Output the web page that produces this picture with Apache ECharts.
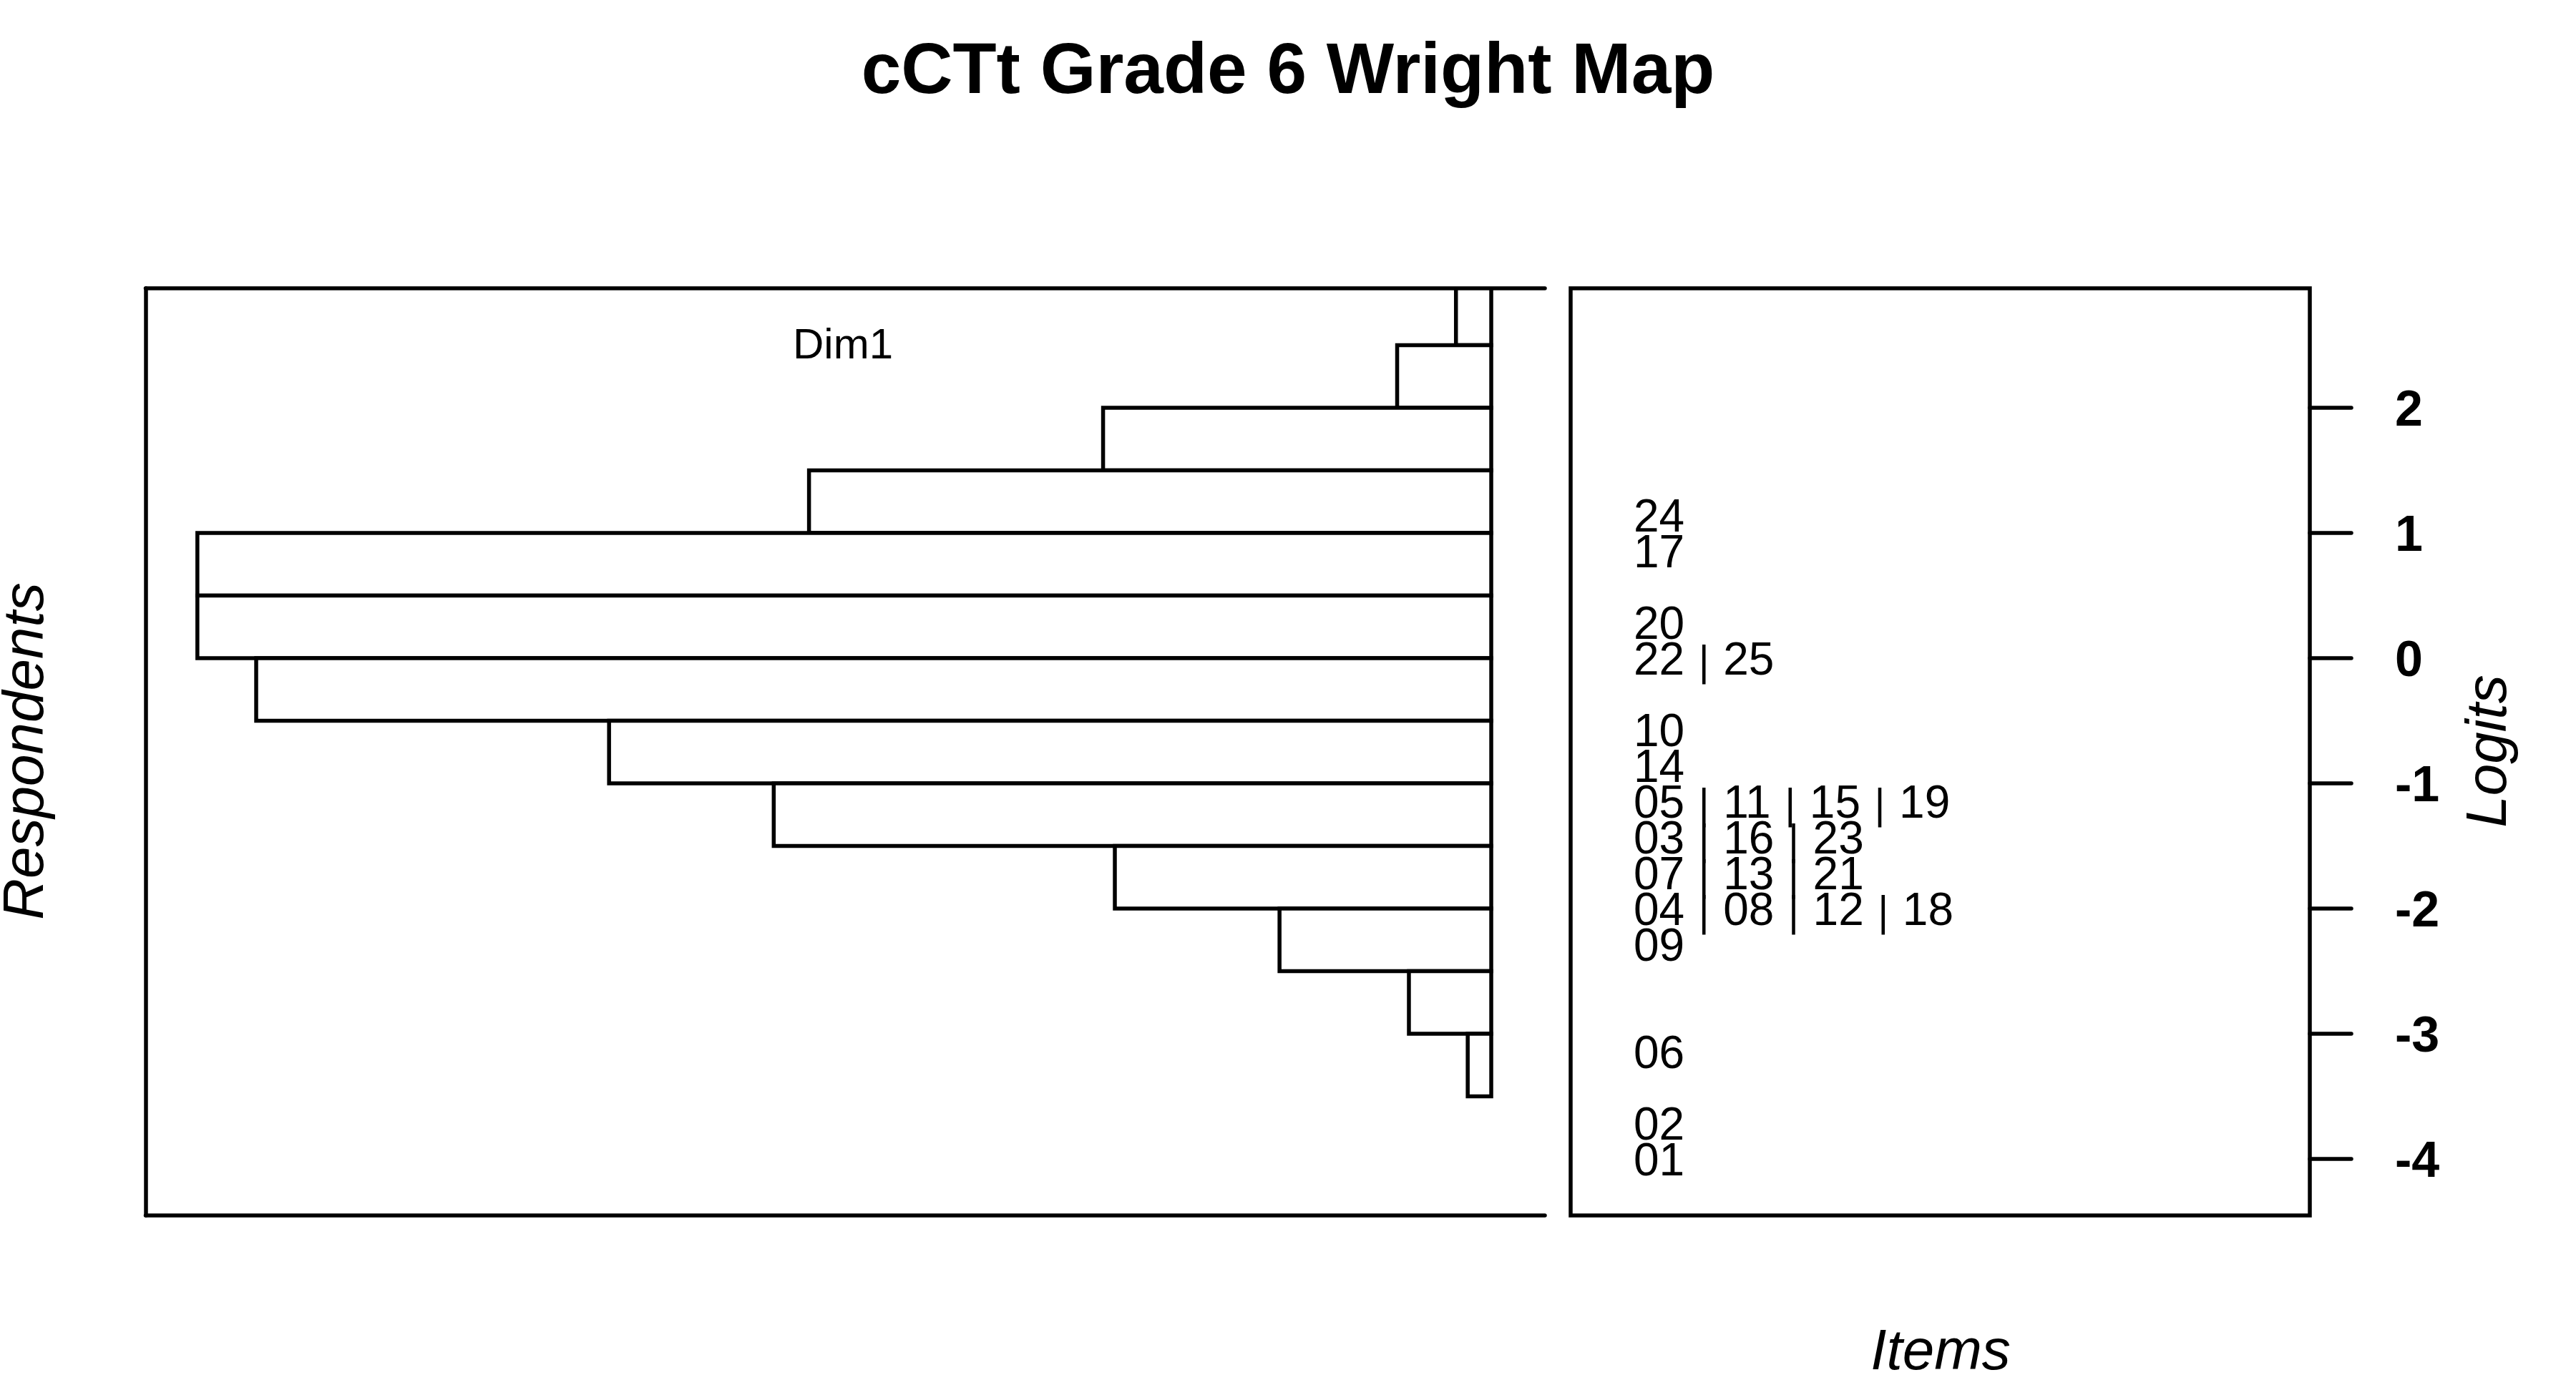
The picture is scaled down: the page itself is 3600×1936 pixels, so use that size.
<!DOCTYPE html>
<html>
<head>
<meta charset="utf-8">
<script src="https://cdn.jsdelivr.net/npm/echarts@6/dist/echarts.min.js"></script>
<style>
html, body { margin: 0; padding: 0; background: #fff; }
#chart { width: 3600px; height: 1936px; }
</style>
</head>
<body>
<div id="chart"></div>
<script>
// ---- data ----
const chartTitle = 'cCTt Grade 6 Wright Map';
const dimLabel = 'Dim1';
const personAxisName = 'Respondents';
const itemAxisName = 'Items';
const logitAxisName = 'Logits';

// person histogram: bins of 0.5 logit (lower edge) and counts
const binStarts = [2.5, 2.0, 1.5, 1.0, 0.5, 0.0, -0.5, -1.0, -1.5, -2.0, -2.5, -3.0, -3.5];
const binCounts = [3, 8, 33, 58, 110, 110, 105, 75, 61, 32, 18, 7, 2];
const binWidth = 0.5;

// item difficulty rows (logits) and their labels
const itemLogits = [1.143, 0.857, 0.286, 0.0, -0.571, -0.857, -1.143, -1.429, -1.714, -2.0, -2.286, -3.143, -3.714, -4.0];
const itemLabels = ['24', '17', '20', '22 | 25', '10', '14', '05 | 11 | 15 | 19', '03 | 16 | 23', '07 | 13 | 21', '04 | 08 | 12 | 18', '09', '06', '02', '01'];

// logit axis
const logitTicks = [-4, -3, -2, -1, 0, 1, 2];
const logitMin = -4.451;
const logitMax = 2.954;
const countMin = -4.56;
const countMax = 114.4;

// ---- chart ----
const FONT = '"Liberation Sans", Arial, Helvetica, sans-serif';
const LW = 5.5;
const chart = echarts.init(document.getElementById('chart'), null, { renderer: 'canvas' });

const histData = binStarts.map((s, i) => [s, s + binWidth, binCounts[i]]);
const itemData = itemLogits.map((v, i) => ({ value: [0, v], name: itemLabels[i] }));

const option = {
  backgroundColor: '#ffffff',
  animation: false,
  grid: [
    { left: 203.5, top: 403, width: 1955.5, height: 1296, show: false, containLabel: false },
    { left: 2195, top: 403, width: 1033, height: 1296, show: true, borderColor: '#000', borderWidth: LW, backgroundColor: 'transparent', containLabel: false }
  ],
  xAxis: [
    { gridIndex: 0, type: 'value', inverse: true, min: countMin, max: countMax, position: 'top',
      axisLine: { show: true, onZero: false, lineStyle: { color: '#000', width: LW, cap: 'round' } },
      axisTick: { show: false }, axisLabel: { show: false }, splitLine: { show: false } },
    { gridIndex: 0, type: 'value', inverse: true, min: countMin, max: countMax, position: 'bottom',
      axisLine: { show: true, onZero: false, lineStyle: { color: '#000', width: LW, cap: 'round' } },
      axisTick: { show: false }, axisLabel: { show: false }, splitLine: { show: false } },
    { gridIndex: 1, type: 'value', min: 0, max: 1, show: false }
  ],
  yAxis: [
    { gridIndex: 0, type: 'value', min: logitMin, max: logitMax, position: 'left',
      axisLine: { show: true, onZero: false, lineStyle: { color: '#000', width: LW, cap: 'round' } },
      axisTick: { show: false }, axisLabel: { show: false }, splitLine: { show: false } },
    { gridIndex: 1, type: 'value', min: logitMin, max: logitMax, position: 'right',
      axisLine: { show: false, onZero: false },
      axisTick: { show: true, inside: false, length: 58, customValues: logitTicks,
        lineStyle: { color: '#000', width: LW, cap: 'round' } },
      axisLabel: { show: true, customValues: logitTicks, margin: 119, align: 'left',
        formatter: function (v) { return '{t|' + v + '}'; },
        rich: { t: { padding: [12, 0, 0, 0], color: '#000', fontFamily: FONT, fontWeight: 'bold', fontSize: 70 } },
        color: '#000', fontFamily: FONT, fontWeight: 'bold', fontSize: 70 },
      splitLine: { show: false } }
  ],
  series: [
    {
      type: 'custom',
      xAxisIndex: 0, yAxisIndex: 0,
      clip: true,
      data: histData,
      encode: { x: 2, y: [0, 1] },
      renderItem: function (params, api) {
        const start = api.value(0), end = api.value(1), count = api.value(2);
        const pTop = api.coord([count, end]);
        const pBase = api.coord([0, start]);
        const rect = {
          x: Math.min(pTop[0], pBase[0]),
          y: Math.min(pTop[1], pBase[1]),
          width: Math.abs(pBase[0] - pTop[0]),
          height: Math.abs(pBase[1] - pTop[1])
        };
        const cs = params.coordSys;
        const clipped = echarts.graphic.clipRectByRect(rect, { x: cs.x, y: cs.y, width: cs.width, height: cs.height });
        if (!clipped) return null;
        return {
          type: 'rect',
          shape: clipped,
          style: { fill: '#ffffff', stroke: '#000000', lineWidth: LW, lineJoin: 'miter' }
        };
      }
    },
    {
      type: 'scatter',
      xAxisIndex: 2, yAxisIndex: 1,
      symbolSize: 0,
      itemStyle: { opacity: 1 },
      data: itemData,
      label: {
        show: true, position: 'right', distance: 88, offset: [0, 5],
        opacity: 1,
        formatter: function (p) { return p.name.split('|').join('{p||}'); },
        rich: { p: { fontSize: 55, color: '#000000', fontFamily: '"DejaVu Sans"', padding: [8, 0, 0, 0] } },
        color: '#000000', fontFamily: FONT, fontSize: 64
      },
      silent: true
    }
  ],
  graphic: [
    { type: 'text', x: 1800, y: 102, style: { text: chartTitle, fill: '#000', fontFamily: FONT, fontWeight: 'bold', fontSize: 100, align: 'center', verticalAlign: 'middle' } },
    { type: 'text', x: 1178, y: 484, style: { text: dimLabel, fill: '#000', fontFamily: FONT, fontSize: 60, align: 'center', verticalAlign: 'middle' } },
    { type: 'text', x: 38, y: 1050, rotation: Math.PI / 2, style: { text: personAxisName, fill: '#000', fontFamily: FONT, fontStyle: 'italic', fontSize: 80, align: 'center', verticalAlign: 'middle' } },
    { type: 'text', x: 3480, y: 1050, rotation: Math.PI / 2, style: { text: logitAxisName, fill: '#000', fontFamily: FONT, fontStyle: 'italic', fontSize: 80, align: 'center', verticalAlign: 'middle' } },
    { type: 'text', x: 2712, y: 1892, style: { text: itemAxisName, fill: '#000', fontFamily: FONT, fontStyle: 'italic', fontSize: 80, align: 'center', verticalAlign: 'middle' } }
  ]
};
chart.setOption(option);
</script>
</body>
</html>
